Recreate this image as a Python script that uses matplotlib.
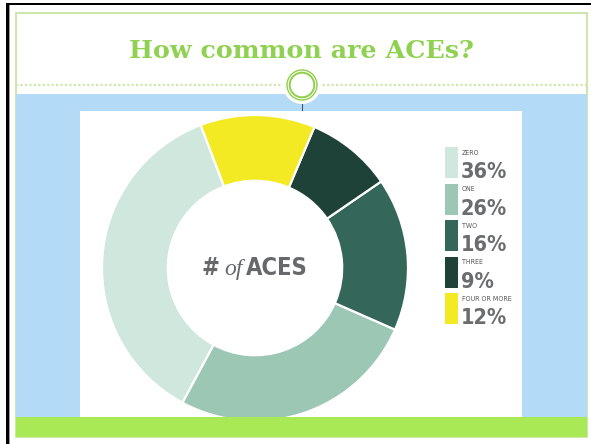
import matplotlib
matplotlib.use("Agg")
import matplotlib.pyplot as plt
from matplotlib.patches import Rectangle, Circle

# ---- data ----
categories = ["ZERO", "ONE", "TWO", "THREE", "FOUR OR MORE"]
values = [36, 26, 16, 9, 12]
pct_labels = ["36%", "26%", "16%", "9%", "12%"]
colors = ["#cfe7dc", "#9dc7b5", "#34665a", "#1f4238", "#f4ea23"]
title = "How common are ACEs?"

W, H = 591, 444
fig = plt.figure(figsize=(W / 100, H / 100), dpi=100)

bg = fig.add_axes([0, 0, 1, 1])
bg.set_xlim(0, W); bg.set_ylim(H, 0); bg.axis("off")

# slide frame
bg.add_patch(Rectangle((6, 3), W - 6, 2.5, color="black", lw=0))
bg.add_patch(Rectangle((6, 3), 3, H - 3, color="black", lw=0))
bg.add_patch(Rectangle((9, 5.5), 1.2, H, color="#9a9a9a", lw=0))
bg.add_patch(Rectangle((15.5, 13.5), 571.5, 423.5, fill=False, edgecolor="#c3e39a", lw=1.2))
# blue band and white picture
bg.add_patch(Rectangle((16, 94), 571, 323, color="#b3dbf8", lw=0))
bg.add_patch(Rectangle((80, 110.5), 442, 307, color="white", lw=0))
# dotted separator and ornament
bg.plot([16, 587], [85, 85], color="#cde8aa", lw=1.6, ls=(0, (1, 1)))
bg.add_patch(Circle((302, 85), 19, color="white", lw=0, zorder=3))
bg.add_patch(Circle((302, 85), 15, fill=False, edgecolor="#8fcf4a", lw=1.0, zorder=4))
bg.add_patch(Circle((302, 85), 12.3, fill=False, edgecolor="#8fcf4a", lw=1.4, zorder=4))
bg.plot([302, 302], [104, 110], color="#44546e", lw=0.8, zorder=4)
bg.text(301.5, 58, title, ha="center", va="baseline", fontsize=18.3,
        fontweight="bold", family="DejaVu Serif", color="#8fd150")

# ---- donut ----
cx, cy, R = 255, 268, 153
pa = fig.add_axes([(cx - R) / W, (H - cy - R) / H, 2 * R / W, 2 * R / H])
pa.pie(values, colors=colors, startangle=110.8, counterclock=True, radius=1,
       wedgeprops=dict(width=0.43, edgecolor="white", linewidth=1.6))
pa.set_xlim(-1, 1); pa.set_ylim(-1, 1); pa.axis("off")

# ---- overlay ----
ov = fig.add_axes([0, 0, 1, 1])
ov.set_xlim(0, W); ov.set_ylim(H, 0); ov.axis("off")
ov.patch.set_alpha(0)
ov.add_patch(Rectangle((16, 417), 571, 20, color="#a9e955", lw=0))

narrow = dict(family=["DejaVu Sans"], fontstretch="condensed")
gray = "#6b6c6e"
for i, (cat, pl, col) in enumerate(zip(categories, pct_labels, colors)):
    y0 = 147 + i * 36.5
    ov.add_patch(Rectangle((445, y0), 13, 31, color=col, lw=0))
    ov.text(462, y0 + 2.5, cat, ha="left", va="top", fontsize=5, color="#555658",
            **narrow)
    ov.text(461, y0 + 31, pl, ha="left", va="baseline", fontsize=15.5,
            fontweight="bold", color=gray, **narrow)

# center label "# of ACES"
fig.canvas.draw()
r = fig.canvas.get_renderer()
parts = [("#", dict(fontweight="bold", **narrow)),
         ("of", dict(style="italic", family=["Liberation Serif", "DejaVu Serif"])),
         ("ACES", dict(fontweight="bold", **narrow))]
texts = []
for s, kw in parts:
    t = ov.text(0, 275, s, ha="left", va="baseline", fontsize=17, color="#67686a", **kw)
    texts.append(t)
gap = 4
widths = [t.get_window_extent(r).width for t in texts]
total = sum(widths) + gap * (len(widths) - 1)
x = 255 - total / 2
for t, w in zip(texts, widths):
    t.set_x(x)
    x += w + gap

fig.savefig("out.png", dpi=100)
